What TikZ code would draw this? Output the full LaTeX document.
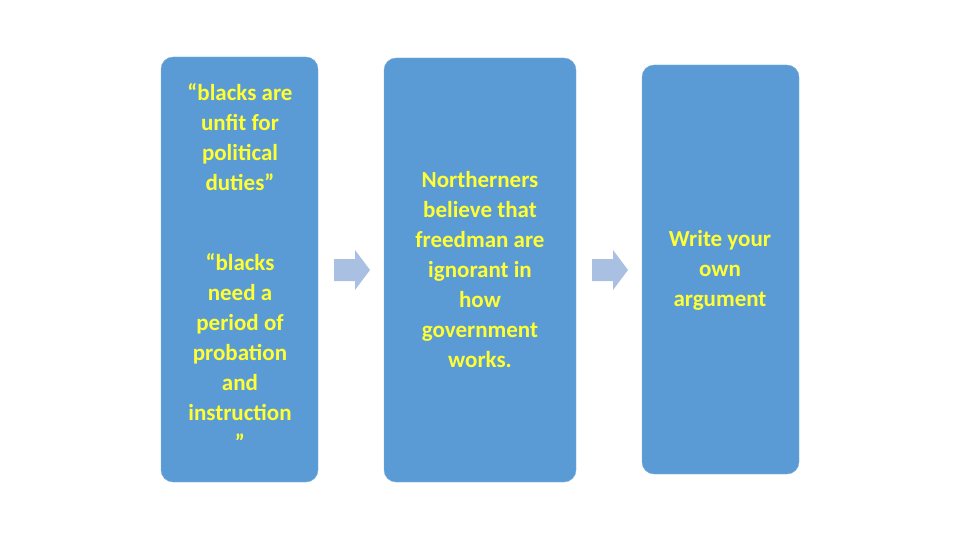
\documentclass[tikz,border=0pt]{standalone}
\usepackage{fontspec}
\setmainfont{Carlito}
\definecolor{boxblue}{HTML}{5B9BD5}
\definecolor{txt}{HTML}{FFFF33}
\definecolor{arr}{HTML}{A9C0E2}
\begin{document}
\begin{tikzpicture}[x=1pt,y=-1pt,
  card/.style={fill=boxblue,draw=boxblue!80!white,rounded corners=12pt},
  lbl/.style={text=txt,font=\fontsize{23}{30}\selectfont\bfseries,align=center},
  chev/.style={fill=arr}]
\useasboundingbox (0,0) rectangle (960,540);
\path[card] (161,57) rectangle (318,482);
\path[card] (384,58) rectangle (576,482);
\path[card] (642,65) rectangle (799,474);
\node[lbl] (t1) at (240,137) {“blacks are\\unfit for\\political\\duties”};
\node[lbl] (t2) at (240,352) {“blacks\\need a\\period of\\probation\\and\\instruction\\”};
\node[lbl] (t3) at (480,270) {Northerners\\believe that\\freedman are\\ignorant in\\how\\government\\works.};
\node[lbl] (t4) at (720,270) {Write your\\own\\argument};
\path[chev] (334,259) -- (355,259) -- (355,250) -- (370,270) -- (355,290) -- (355,281) -- (334,281) -- cycle;
\path[chev] (592,259) -- (613,259) -- (613,250) -- (628,270) -- (613,290) -- (613,281) -- (592,281) -- cycle;
\end{tikzpicture}
\end{document}
